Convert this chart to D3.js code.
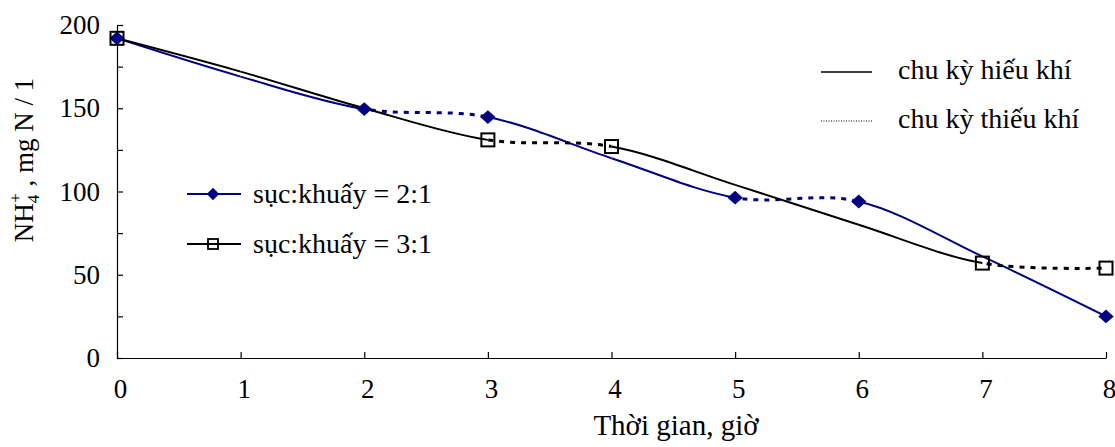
<html><head>
<script src="https://d3js.org/d3.v7.min.js"></script>
<style>
  body { margin: 0; background: #fff; }
  svg text { font-family: "Liberation Serif", "Times New Roman", Times, "DejaVu Serif", "Noto Serif", serif; fill: #000; }
</style>
</head>
<body>
<svg id="chart" width="1115" height="447"></svg>
<script>
// hours and NH4+ values
const hours = [0, 1, 2, 3, 4, 5, 6, 7, 8];
const ratio21 = [192, 169, 149.5, 144.7, 120, 96.3, 94, 61, 25];
const ratio31 = [192, 172, 150, 131, 127, 104, 80, 57, 54];
// phase of each one-hour interval: "a" aerobic (solid), "n" anoxic (dotted)
const phase21 = ["a", "a", "n", "a", "a", "n", "a", "a"];
const phase31 = ["a", "a", "a", "n", "a", "a", "a", "n"];
// hours where a marker is drawn
const marks21 = [0, 2, 3, 5, 6, 8];
const marks31 = [0, 3, 4, 7, 8];
const yTicks = [0, 25, 50, 75, 100, 125, 150, 175, 200];
const xTicks = [0, 1, 2, 3, 4, 5, 6, 7, 8];

const serif = '"Liberation Serif", "Times New Roman", Times, "DejaVu Serif", serif';
const svg = d3.select("#chart").style("font-family", serif);
const x = d3.scaleLinear().domain([0, 8]).range([117, 1106]);
const y = d3.scaleLinear().domain([0, 200]).range([358, 25]);
const fs = 27;

// axes
const yAxis = svg.append("g").attr("transform", "translate(117,0)")
    .call(d3.axisLeft(y).tickValues(yTicks).tickSize(-6).tickSizeOuter(0).tickPadding(17)
        .tickFormat(d => d % 50 === 0 ? d : ""));
const xAxis = svg.append("g").attr("transform", "translate(0,358)")
    .call(d3.axisBottom(x).tickValues(xTicks).tickSize(-6).tickSizeOuter(0).tickPadding(21));
[xAxis, yAxis].forEach(a => {
    a.attr("font-family", null).attr("font-size", null);
    a.selectAll("path, line").attr("stroke", "#000").attr("stroke-width", 1.2);
    a.selectAll("text").attr("fill", "#000").style("font-size", fs + "px").style("font-family", serif);
});
xAxis.selectAll("text").attr("dx", 3);

// axis titles
svg.append("text").attr("x", 676).attr("y", 435).attr("text-anchor", "middle")
    .style("font-size", "29px").text("Thời gian, giờ");
const yl = svg.append("text").attr("transform", "translate(33,160) rotate(-90)")
    .attr("text-anchor", "middle").style("font-size", fs + "px");
yl.append("tspan").text("NH");
yl.append("tspan").style("font-size", "17px").attr("dy", 6).text("4");
yl.append("tspan").style("font-size", "17px").attr("dx", -8).attr("dy", -18).text("+");
yl.append("tspan").attr("dy", 12).text(" , mg N / 1");

// series
const defs = svg.append("defs");
const line = d3.line().x(d => x(d[0])).y(d => y(d[1])).curve(d3.curveCatmullRom.alpha(0));

function drawSeries(vals, phases, color, id) {
    const pts = hours.map((h, i) => [h, vals[i]]);
    phases.forEach((p, i) => {
        const cid = id + "-clip" + i;
        defs.append("clipPath").attr("id", cid).append("rect")
            .attr("x", x(hours[i])).attr("width", x(hours[i + 1]) - x(hours[i]))
            .attr("y", 0).attr("height", 447);
        svg.append("path").datum(pts)
            .attr("d", line)
            .attr("clip-path", `url(#${cid})`)
            .attr("fill", "none")
            .attr("stroke", color)
            .attr("stroke-width", p === "a" ? 2 : 3)
            .attr("stroke-dasharray", p === "a" ? null : "5,6");
    });
}
drawSeries(ratio21, phase21, "#000080", "s21");
drawSeries(ratio31, phase31, "#000", "s31");

const diamond = d3.symbol().type(d3.symbolDiamond2).size(150);
svg.append("g").selectAll("path").data(marks21).join("path")
    .attr("d", diamond)
    .attr("transform", h => `translate(${x(h)},${y(ratio21[hours.indexOf(h)])}) scale(1,0.9)`)
    .attr("fill", "#000080");
svg.append("g").selectAll("rect").data(marks31).join("rect")
    .attr("x", h => x(h) - 6.5).attr("y", h => y(ratio31[hours.indexOf(h)]) - 6.5)
    .attr("width", 13).attr("height", 13)
    .attr("fill", "none").attr("stroke", "#000").attr("stroke-width", 2);

// legend: series
const lg1 = svg.append("g");
lg1.append("line").attr("x1", 187).attr("x2", 241).attr("y1", 194).attr("y2", 194)
    .attr("stroke", "#000080").attr("stroke-width", 2);
lg1.append("path").attr("d", d3.symbol().type(d3.symbolDiamond2).size(100))
    .attr("transform", "translate(213,194)").attr("fill", "#000080");
lg1.append("text").attr("x", 253).attr("y", 203).style("font-size", "28px").text("sục:khuấy = 2:1");
lg1.append("line").attr("x1", 187).attr("x2", 241).attr("y1", 244).attr("y2", 244)
    .attr("stroke", "#000").attr("stroke-width", 2);
lg1.append("rect").attr("x", 208).attr("y", 239).attr("width", 10).attr("height", 10)
    .attr("fill", "none").attr("stroke", "#000").attr("stroke-width", 1.8);
lg1.append("text").attr("x", 253).attr("y", 253).style("font-size", "28px").text("sục:khuấy = 3:1");

// legend: phases
const lg2 = svg.append("g");
lg2.append("line").attr("x1", 821).attr("x2", 872).attr("y1", 72).attr("y2", 72)
    .attr("stroke", "#000").attr("stroke-width", 1.6);
lg2.append("text").attr("x", 898).attr("y", 79).style("font-size", "28px").text("chu kỳ hiếu khí");
lg2.append("line").attr("x1", 821).attr("x2", 872).attr("y1", 121).attr("y2", 121)
    .attr("stroke", "#000").attr("stroke-width", 1).attr("stroke-dasharray", "1,1.5");
lg2.append("text").attr("x", 898).attr("y", 128).style("font-size", "28px").text("chu kỳ thiếu khí");
</script>
</body>
</html>
